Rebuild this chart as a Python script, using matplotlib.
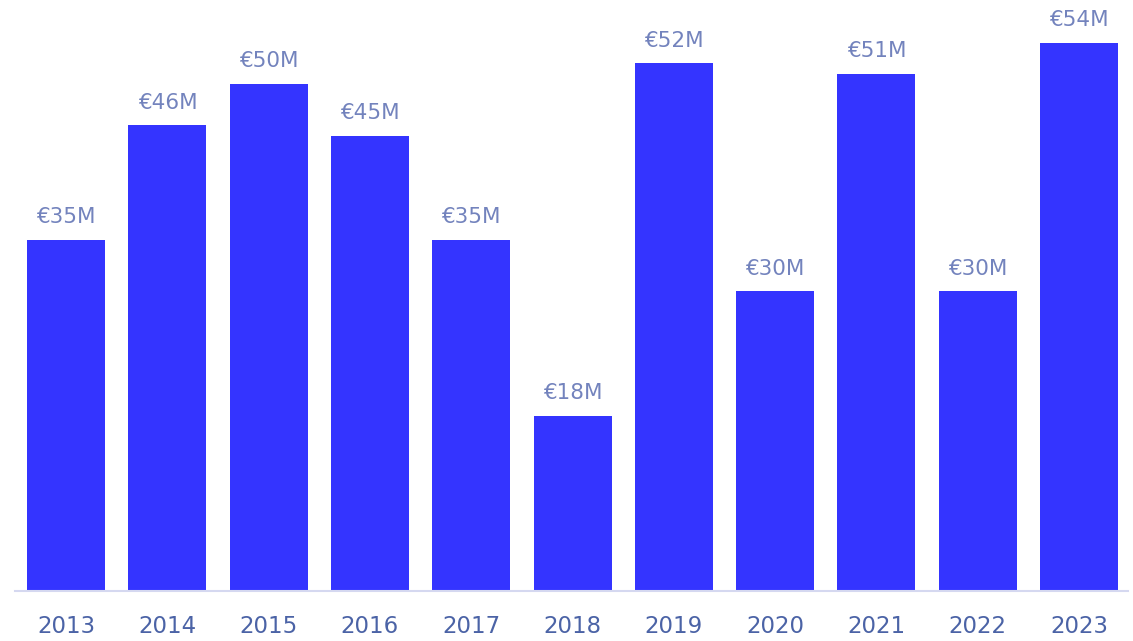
import matplotlib
matplotlib.use("Agg")
import matplotlib.pyplot as plt

years = ["2013", "2014", "2015", "2016", "2017", "2018",
         "2019", "2020", "2021", "2022", "2023"]
funding = [35, 46, 50, 45, 35, 18, 52, 30, 51, 30, 54]  # millions of euros

bar_color = "#3434ff"
label_color = "#7383bd"
tick_color = "#4b63a6"

fig = plt.figure(figsize=(11.33, 6.41), dpi=100)
ax = fig.add_axes([0.0132, 0.078, 0.982, 0.922])

x = range(len(years))
bars = ax.bar(x, funding, width=0.77, color=bar_color, zorder=2)

for rect, val in zip(bars, funding):
    ax.annotate(f"€{val}M", (rect.get_x() + rect.get_width() / 2, rect.get_height()),
                xytext=(0, 12), textcoords="offset points",
                ha="center", va="baseline", fontsize=15.5, color=label_color)

ax.set_xlim(-0.505, 10.48)
ax.set_ylim(1.1, 58.1)
ax.set_xticks(list(x))
ax.set_xticklabels(years)
ax.tick_params(axis="x", length=0, pad=17, labelsize=16.5, labelcolor=tick_color)
ax.set_yticks([])

for side in ["top", "right", "left"]:
    ax.spines[side].set_visible(False)
ax.spines["bottom"].set_color("#d5d8f0")
ax.spines["bottom"].set_linewidth(1.5)

fig.savefig("out.png", dpi=100)
